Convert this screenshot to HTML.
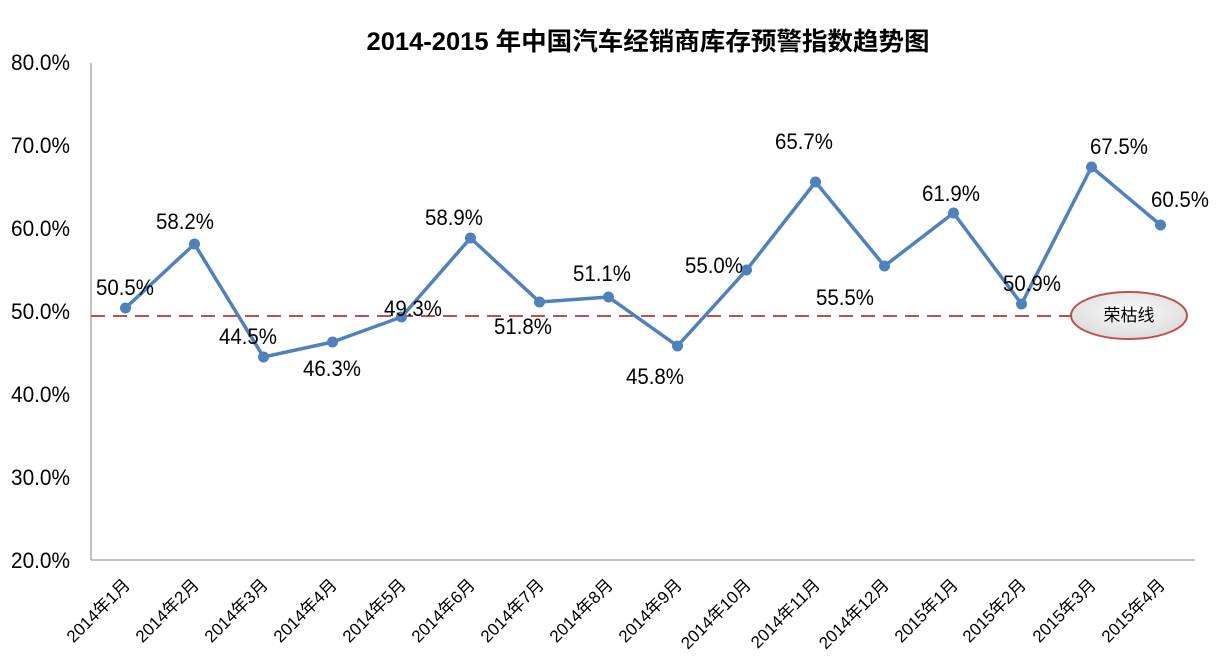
<!DOCTYPE html>
<html>
<head>
<meta charset="utf-8">
<style>
  html,body{margin:0;padding:0;background:#fff;}
  svg{display:block;}
  text{font-family:"Liberation Sans","Noto Sans CJK SC",sans-serif;fill:#000;}
</style>
</head>
<body>
<svg width="1217" height="671" viewBox="0 0 1217 671" xmlns="http://www.w3.org/2000/svg">
  <defs>
    <radialGradient id="eg" cx="50%" cy="40%" r="60%">
      <stop offset="0%" stop-color="#fafafa"/>
      <stop offset="100%" stop-color="#dcdcdc"/>
    </radialGradient>
  </defs>

  <!-- Title -->
  <text x="648" y="50" text-anchor="middle" font-size="25" font-weight="bold" textLength="563" lengthAdjust="spacingAndGlyphs">2014-2015  年中国汽车经销商库存预警指数趋势图</text>

  <!-- Y axis labels -->
  <g font-size="22" text-anchor="end">
    <text x="70" y="70" textLength="59" lengthAdjust="spacingAndGlyphs">80.0%</text>
    <text x="70" y="153" textLength="59" lengthAdjust="spacingAndGlyphs">70.0%</text>
    <text x="70" y="236" textLength="59" lengthAdjust="spacingAndGlyphs">60.0%</text>
    <text x="70" y="319" textLength="59" lengthAdjust="spacingAndGlyphs">50.0%</text>
    <text x="70" y="402" textLength="59" lengthAdjust="spacingAndGlyphs">40.0%</text>
    <text x="70" y="485" textLength="59" lengthAdjust="spacingAndGlyphs">30.0%</text>
    <text x="70" y="568" textLength="59" lengthAdjust="spacingAndGlyphs">20.0%</text>
  </g>

  <!-- Axes -->
  <line x1="91" y1="63" x2="91" y2="560" stroke="#868686" stroke-width="1"/>
  <line x1="91" y1="560" x2="1195" y2="560" stroke="#868686" stroke-width="1"/>

  <!-- Dashed reference line -->
  <line x1="91" y1="316" x2="1071" y2="316" stroke="#c0504d" stroke-width="2" stroke-dasharray="14 8"/>

  <!-- Series -->
  <polyline fill="none" stroke="#4f81bd" stroke-width="3.5" stroke-linejoin="round"
    points="125.5,308 194.5,244 263.5,357 332.5,342 401.5,317 470.5,238 539.5,302 608.5,297 677.5,346 746.5,270 815.5,182 884.5,266 953.5,213 1021.5,304 1091.5,167 1160.5,225"/>
  <g fill="#4f81bd">
    <circle cx="125.5" cy="308" r="5.5"/>
    <circle cx="194.5" cy="244" r="5.5"/>
    <circle cx="263.5" cy="357" r="5.5"/>
    <circle cx="332.5" cy="342" r="5.5"/>
    <circle cx="401.5" cy="317" r="5.5"/>
    <circle cx="470.5" cy="238" r="5.5"/>
    <circle cx="539.5" cy="302" r="5.5"/>
    <circle cx="608.5" cy="297" r="5.5"/>
    <circle cx="677.5" cy="346" r="5.5"/>
    <circle cx="746.5" cy="270" r="5.5"/>
    <circle cx="815.5" cy="182" r="5.5"/>
    <circle cx="884.5" cy="266" r="5.5"/>
    <circle cx="953.5" cy="213" r="5.5"/>
    <circle cx="1021.5" cy="304" r="5.5"/>
    <circle cx="1091.5" cy="167" r="5.5"/>
    <circle cx="1160.5" cy="225" r="5.5"/>
  </g>

  <!-- Data labels -->
  <g font-size="22" text-anchor="middle">
    <text x="125" y="295" textLength="58" lengthAdjust="spacingAndGlyphs">50.5%</text>
    <text x="185" y="229" textLength="58" lengthAdjust="spacingAndGlyphs">58.2%</text>
    <text x="248" y="344" textLength="58" lengthAdjust="spacingAndGlyphs">44.5%</text>
    <text x="332" y="376" textLength="58" lengthAdjust="spacingAndGlyphs">46.3%</text>
    <text x="413" y="316" textLength="58" lengthAdjust="spacingAndGlyphs">49.3%</text>
    <text x="454" y="225" textLength="58" lengthAdjust="spacingAndGlyphs">58.9%</text>
    <text x="523" y="334" textLength="58" lengthAdjust="spacingAndGlyphs">51.8%</text>
    <text x="602" y="281" textLength="58" lengthAdjust="spacingAndGlyphs">51.1%</text>
    <text x="655" y="384" textLength="58" lengthAdjust="spacingAndGlyphs">45.8%</text>
    <text x="714" y="273" textLength="58" lengthAdjust="spacingAndGlyphs">55.0%</text>
    <text x="804" y="149" textLength="58" lengthAdjust="spacingAndGlyphs">65.7%</text>
    <text x="845" y="305" textLength="58" lengthAdjust="spacingAndGlyphs">55.5%</text>
    <text x="951" y="201" textLength="58" lengthAdjust="spacingAndGlyphs">61.9%</text>
    <text x="1032" y="291" textLength="58" lengthAdjust="spacingAndGlyphs">50.9%</text>
    <text x="1119" y="154" textLength="58" lengthAdjust="spacingAndGlyphs">67.5%</text>
    <text x="1180" y="207" textLength="58" lengthAdjust="spacingAndGlyphs">60.5%</text>
  </g>

  <!-- Ellipse callout -->
  <ellipse cx="1129" cy="315.5" rx="58" ry="23.5" fill="url(#eg)" stroke="#c0504d" stroke-width="2"/>
  <text x="1129" y="321" font-size="17" text-anchor="middle">荣枯线</text>

  <!-- X axis labels -->
  <g font-size="17" text-anchor="end">
    <text transform="translate(131,586) rotate(-45)">2014年1月</text>
    <text transform="translate(200,586) rotate(-45)">2014年2月</text>
    <text transform="translate(269,586) rotate(-45)">2014年3月</text>
    <text transform="translate(338,586) rotate(-45)">2014年4月</text>
    <text transform="translate(407,586) rotate(-45)">2014年5月</text>
    <text transform="translate(476,586) rotate(-45)">2014年6月</text>
    <text transform="translate(545,586) rotate(-45)">2014年7月</text>
    <text transform="translate(614,586) rotate(-45)">2014年8月</text>
    <text transform="translate(683,586) rotate(-45)">2014年9月</text>
    <text transform="translate(752,586) rotate(-45)">2014年10月</text>
    <text transform="translate(821,586) rotate(-45)">2014年11月</text>
    <text transform="translate(890,586) rotate(-45)">2014年12月</text>
    <text transform="translate(959,586) rotate(-45)">2015年1月</text>
    <text transform="translate(1027,586) rotate(-45)">2015年2月</text>
    <text transform="translate(1097,586) rotate(-45)">2015年3月</text>
    <text transform="translate(1166,586) rotate(-45)">2015年4月</text>
  </g>
</svg>
</body>
</html>
